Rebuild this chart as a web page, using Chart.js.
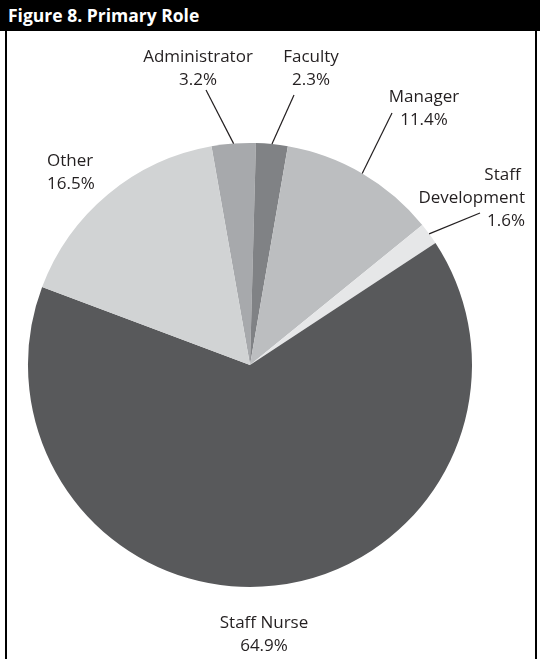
<!DOCTYPE html>
<html>
<head>
<meta charset="utf-8">
<script src="https://cdn.jsdelivr.net/npm/chart.js@4/dist/chart.umd.min.js"></script>
<style>
  html, body { margin: 0; padding: 0; background: #fff; }
  #fig { position: relative; width: 540px; height: 659px; overflow: hidden; }
  #head {
    position: absolute; left: 0; top: 0; width: 540px; height: 31px;
    background: #000; color: #fff;
    font: bold 17.5px "Open Sans", Lato, sans-serif;
    line-height: 31px; box-sizing: border-box; padding-left: 8px;
  }
  #frame {
    position: absolute; left: 5px; top: 31px; width: 532px; height: 640px;
    border-left: 2px solid #000; border-right: 2px solid #000; box-sizing: border-box;
  }
  #wrap { position: absolute; left: 0; top: 0; width: 540px; height: 659px; }
</style>
</head>
<body>
<div id="fig">
  <div id="frame"></div>
  <div id="wrap"><canvas id="roleChart"></canvas></div>
  <div id="head">Figure 8. Primary Role</div>
</div>
<script>
// 主要職務分佈
const roles = ['Administrator', 'Faculty', 'Manager', 'Staff Development', 'Staff Nurse', 'Other'];
const shares = [3.2, 2.3, 11.4, 1.6, 64.9, 16.5];
const roleColors = ['#a7a9ac', '#808285', '#bcbec0', '#e6e7e8', '#58595b', '#d1d3d4'];

// 標籤文字行
const labelLines = [
    ['Administrator'],
    ['Faculty'],
    ['Manager'],
    ['Staff ', 'Development'],
    ['Staff Nurse'],
    ['Other']
];

// 標籤位置 (x, 首行y, 對齊, 引線端點)
const labelLayout = [
    { x: 198, y: 57, align: 'center', lead: [206, 90] },
    { x: 311, y: 57, align: 'center', lead: [294, 95] },
    { x: 424, y: 97, align: 'center', lead: [392, 113] },
    { x: 525, y: 175, align: 'right', lead: [480, 213] },
    { x: 264, y: 623, align: 'center', lead: null },
    { x: 47, y: 161, align: 'left', lead: null }
];

const roleLabels = {
    id: 'roleLabels',
    afterDatasetsDraw(chart) {
        const ctx = chart.ctx;
        const arcs = chart.getDatasetMeta(0).data;
        ctx.save();
        ctx.fillStyle = '#231f20';
        ctx.strokeStyle = '#231f20';
        ctx.lineWidth = 1.2;
        ctx.font = '17px "Open Sans", Lato, sans-serif';
        ctx.textBaseline = 'middle';
        arcs.forEach((arc, i) => {
            const L = labelLayout[i];
            const lines = labelLines[i].concat([shares[i].toFixed(1) + '%']);
            ctx.textAlign = L.align;
            lines.forEach((t, k) => ctx.fillText(t, L.x, L.y + k * 23));
            if (L.lead) {
                const mid = (arc.startAngle + arc.endAngle) / 2;
                ctx.beginPath();
                ctx.moveTo(arc.x + Math.cos(mid) * arc.outerRadius, arc.y + Math.sin(mid) * arc.outerRadius);
                ctx.lineTo(L.lead[0], L.lead[1]);
                ctx.stroke();
            }
        });
        ctx.restore();
    }
};

new Chart(document.getElementById('roleChart'), {
    type: 'pie',
    data: {
        labels: roles,
        datasets: [{
            data: shares,
            backgroundColor: roleColors,
            borderWidth: 0
        }]
    },
    options: {
        responsive: true,
        maintainAspectRatio: false,
        animation: false,
        rotation: -10,
        layout: { padding: { left: 28, right: 68, top: 143, bottom: 72 } },
        plugins: {
            legend: { display: false },
            tooltip: { enabled: false }
        }
    },
    plugins: [roleLabels]
});
</script>
</body>
</html>
